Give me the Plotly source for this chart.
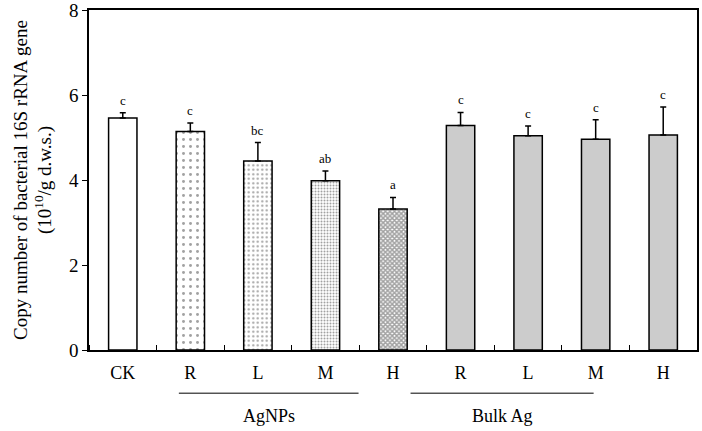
import plotly.graph_objects as go

# treatments, in plotting order
tick_labels = ["CK", "R", "L", "M", "H", "R", "L", "M", "H"]
copy_number = [5.46, 5.14, 4.45, 3.98, 3.32, 5.28, 5.04, 4.96, 5.06]
std_err = [0.12, 0.20, 0.43, 0.23, 0.27, 0.31, 0.23, 0.46, 0.66]
letters = ["c", "c", "bc", "ab", "a", "c", "c", "c", "c"]

groups = ["AgNPs", "Bulk Ag"]
group_spans = [(0.83, 3.49), (4.26, 6.97)]  # extent of underline, in x units

FONT = "Liberation Serif"

# fill / pattern per bar
fills = ["white", "white", "white", "white", "white",
         "#cccccc", "#cccccc", "#cccccc", "#cccccc"]
shapes_ = ["", ".", ".", ".", "x", "", "", "", ""]
sizes = [6, 7, 4.5, 3, 3.2, 6, 6, 6, 6]
solid = [0.2, 0.14, 0.2, 0.35, 0.7, 0.2, 0.2, 0.2, 0.2]

x = list(range(len(tick_labels)))

fig = go.Figure()
fig.add_trace(go.Bar(
    x=x, y=copy_number, width=0.42,
    marker=dict(color=fills, line=dict(color="black", width=1.5),
                pattern=dict(shape=shapes_, size=sizes, solidity=solid,
                             fgcolor="black", fillmode="overlay")),
    error_y=dict(type="data", symmetric=False, array=std_err,
                 arrayminus=[0] * len(std_err),
                 color="black", thickness=1.5, width=3),
    showlegend=False,
))

# significance letters above the error bars
for xi, v, e, l in zip(x, copy_number, std_err, letters):
    fig.add_annotation(x=xi, y=v + e, text=l, showarrow=False,
                       yanchor="bottom", yshift=3,
                       font=dict(family=FONT, size=13, color="black"))

# group underlines and labels
for name, (a, b) in zip(groups, group_spans):
    fig.add_shape(type="line", xref="x", yref="paper", x0=a, x1=b,
                  y0=-0.127, y1=-0.127, line=dict(color="black", width=1))
    fig.add_annotation(x=(a + b) / 2, xref="x", y=-0.193, yref="paper",
                       text=name, showarrow=False, yanchor="middle",
                       font=dict(family=FONT, size=18, color="black"))

fig.update_layout(
    width=702, height=431,
    margin=dict(l=89, r=5, t=10, b=81, autoexpand=False),
    plot_bgcolor="white", paper_bgcolor="white",
    font=dict(family=FONT, size=18, color="black"),
    bargap=0.5,
)
fig.update_xaxes(
    range=[-0.5, len(x) - 0.5], automargin=False,
    tickmode="array", tickvals=x, ticktext=tick_labels,
    ticks="", showgrid=False, zeroline=False, ticklabelstandoff=6,
    showline=True, linecolor="black", linewidth=1.5, mirror=True,
    minor=dict(tickmode="linear", tick0=0.5, dtick=1, ticks="inside",
               ticklen=5, tickcolor="black", tickwidth=1, showgrid=False),
    tickfont=dict(family=FONT, size=18),
)
fig.update_yaxes(
    range=[0, 8], tickvals=[0, 2, 4, 6, 8], automargin=False,
    ticklabeloverflow="allow",
    ticks="outside", ticklen=5, tickwidth=1, tickcolor="black",
    showgrid=False, zeroline=False,
    showline=True, linecolor="black", linewidth=1.5, mirror=True,
    title=dict(text="Copy number of bacterial 16S rRNA gene<br>(10<sup>10</sup>/g d.w.s.)",
               font=dict(family=FONT, size=19), standoff=12),
    tickfont=dict(family=FONT, size=19),
)

fig.write_html("out.html", config={"displayModeBar": False},
               post_script="document.body.style.margin='0';")
